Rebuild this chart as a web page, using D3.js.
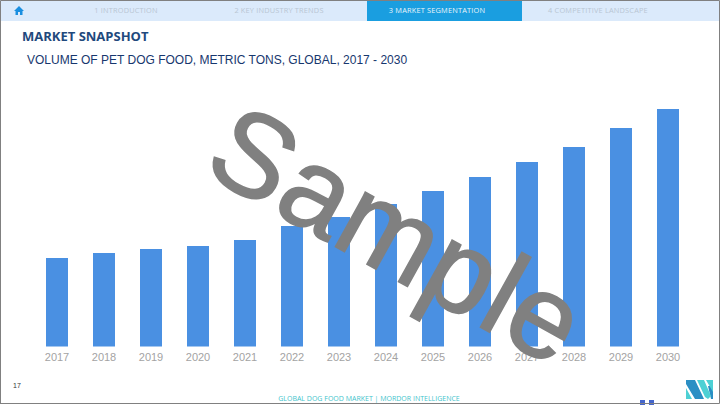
<!DOCTYPE html>
<html><head><meta charset="utf-8">
<script src="https://cdn.jsdelivr.net/npm/d3@7/dist/d3.min.js"></script>
<style>html,body{margin:0;padding:0;background:#fff}svg{display:block}text{font-family:"Liberation Sans",Arial,sans-serif}.c{font-family:"Open Sans",sans-serif}</style>
</head><body><svg width="720" height="405"></svg>
<script>
const years = ["2017","2018","2019","2020","2021","2022","2023","2024","2025","2026","2027","2028","2029","2030"];
const volume = [88.5,93.5,97.5,100.5,106.5,120.5,129.5,142.5,155.5,169.5,184.5,199.5,218.5,237.5];
const navLabels = ["1 INTRODUCTION","2 KEY INDUSTRY TRENDS","3 MARKET SEGMENTATION","4 COMPETITIVE LANDSCAPE"];
const navCenters = [126,279,437,598];

const svg = d3.select("svg");
svg.append("rect").attr("x",0).attr("y",0).attr("width",720).attr("height",21).attr("fill","#dbeafb");
svg.append("rect").attr("x",367).attr("y",0).attr("width",155).attr("height",21).attr("fill","#1a9ee0");
svg.selectAll(".nav").data(navLabels).join("text").attr("class","c")
  .attr("x",(d,i)=>navCenters[i]).attr("y",13).attr("text-anchor","middle")
  .attr("font-size",7.4).attr("letter-spacing",0.17).attr("fill",(d,i)=>i===2?"#e8f4fb":"#b9c6d3").text(d=>d);
svg.append("path").attr("fill","#1a8fe0")
  .attr("d","M14 11 L19 6 L24 11 L22.5 11 L22.5 15 L20 15 L20 12 L18 12 L18 15 L15.5 15 L15.5 11 Z");

svg.append("text").attr("class","c").attr("x",22).attr("y",41).attr("font-size",13).attr("font-weight",700).attr("fill","#1f497d").text("MARKET SNAPSHOT");
svg.append("text").attr("x",27).attr("y",64).attr("font-size",12).attr("fill","#17376e").text("VOLUME OF PET DOG FOOD, METRIC TONS, GLOBAL, 2017 - 2030");

const x = d3.scaleBand().domain(years).range([33.5,691.5]).paddingInner(0.532).paddingOuter(0.266);
const y = d3.scaleLinear().domain([0,237.5]).range([346.5,109]);
svg.selectAll(".bar").data(years).join("rect").attr("class","bar")
  .attr("x",d=>x(d)).attr("width",x.bandwidth())
  .attr("y",(d,i)=>y(volume[i])).attr("height",(d,i)=>y(0)-y(volume[i]))
  .attr("fill","#4a90e2");
const ax = svg.append("g").attr("transform","translate(0,346.5)").call(d3.axisBottom(x).tickSize(0).tickPadding(7));
ax.select(".domain").remove();
ax.selectAll("text").attr("font-size",11).attr("fill","#a3a3a3").attr("font-family","Liberation Sans");

svg.append("text").attr("transform","translate(393,243) rotate(29)").attr("text-anchor","middle").attr("dominant-baseline","middle")
  .attr("font-size",118).attr("letter-spacing",1).attr("fill","#808080").attr("stroke","#808080").attr("stroke-width",1.5).text("Sample");

svg.append("text").attr("x",13).attr("y",388).attr("font-size",7).attr("fill","#333").text("17");
svg.append("text").attr("class","c").attr("x",369).attr("y",401).attr("text-anchor","middle").attr("font-size",7).attr("fill","#3fc4cc").text("GLOBAL DOG FOOD MARKET | MORDOR INTELLIGENCE");
svg.append("path").attr("fill","#2b8fc4").attr("d","M686 380 L695 380 L704 399 L695 399 L686 384 Z M708 386 L713 386 L713 399 L711 399 Z");
svg.append("path").attr("fill","#4dd0d4").attr("d","M686 388 L692 399 L686 399 Z M697 380 L704 380 L711 396 L708 399 L705 397 Z M706 380 L713 380 L713 392 Z");
svg.append("rect").attr("x",640).attr("y",400).attr("width",5).attr("height",5).attr("fill","#4466cc");
svg.append("rect").attr("x",649).attr("y",400).attr("width",5).attr("height",5).attr("fill","#4466cc");
svg.append("path").attr("fill","none").attr("stroke","#808080").attr("stroke-width",1).attr("d","M0.5 404 L0.5 0.5 L719.5 0.5 L719.5 403.5 L0.5 403.5");
</script></body></html>
